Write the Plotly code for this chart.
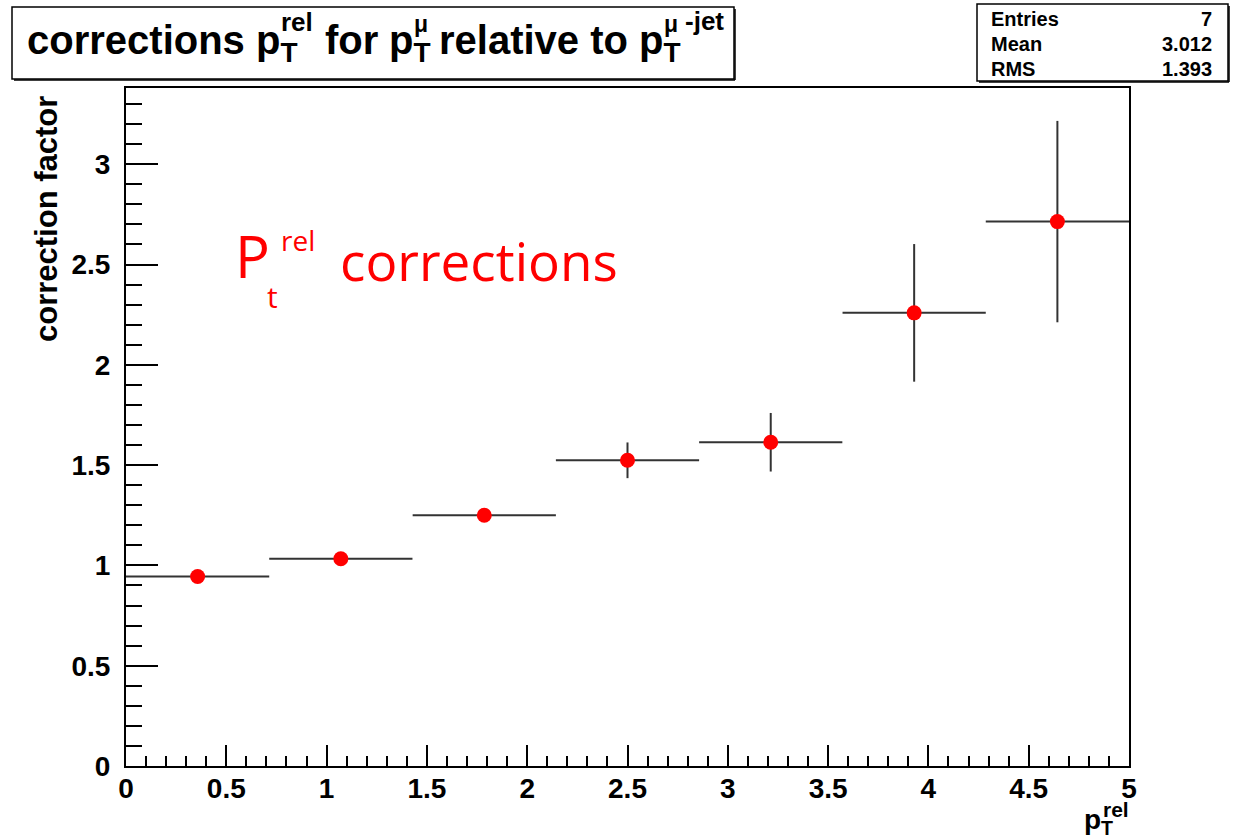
import plotly.graph_objects as go

# ---- data ----
bin_centers = [0.357, 1.071, 1.786, 2.5, 3.214, 3.929, 4.643]
bin_half_widths = [0.357, 0.357, 0.357, 0.357, 0.357, 0.357, 0.357]
correction = [0.945, 1.033, 1.25, 1.524, 1.614, 2.259, 2.714]
correction_err = [0.012, 0.015, 0.02, 0.089, 0.146, 0.343, 0.502]
stats_labels = ["Entries", "Mean", "RMS"]
stats_values = ["7", "3.012", "1.393"]

W, H = 1236, 838
L, R, T, B = 126, 1129, 88, 766.5

def px(x):
    return (x - L) / (R - L)

def py(y):
    return (B - y) / (B - T)

FONT = "Liberation Sans"
fig = go.Figure()
fig.add_trace(go.Scatter(
    x=bin_centers, y=correction, mode="markers",
    marker=dict(color="#ff0000", size=15, line=dict(width=0)),
    error_x=dict(type="data", array=bin_half_widths, width=0, color="#333", thickness=2),
    error_y=dict(type="data", array=correction_err, width=0, color="#333", thickness=2),
    showlegend=False, cliponaxis=False,
))

fig.update_layout(
    width=W, height=H,
    margin=dict(l=L, r=W - R, t=T, b=H - B),
    paper_bgcolor="white", plot_bgcolor="white",
    font=dict(family=FONT, color="black"),
)
fig.update_xaxes(
    range=[0, 5], showgrid=False, zeroline=False,
    showline=True, linecolor="black", linewidth=2, mirror=True,
    ticks="inside", ticklen=21, tickwidth=1.5, tickcolor="black",
    tick0=0, dtick=0.5, ticklabelstandoff=-4,
    tickfont=dict(family=FONT, size=28, color="black", weight="bold"),
    minor=dict(ticks="inside", ticklen=10, dtick=0.1, tickwidth=1.5, tickcolor="black", showgrid=False),
)
fig.update_yaxes(
    range=[0, 3.38], showgrid=False, zeroline=False,
    showline=True, linecolor="black", linewidth=2, mirror=True,
    ticks="inside", ticklen=32, tickwidth=1.5, tickcolor="black",
    tick0=0, dtick=0.5, ticklabelstandoff=8,
    tickfont=dict(family=FONT, size=28, color="black", weight="bold"),
    minor=dict(ticks="inside", ticklen=16, dtick=0.1, tickwidth=1.5, tickcolor="black", showgrid=False),
)

shapes = []
def box(x0, y0, x1, y1):
    shapes.append(dict(type="rect", xref="paper", yref="paper",
                       x0=px(x0), x1=px(x1), y0=py(y1), y1=py(y0),
                       line=dict(color="black", width=1.5), fillcolor="white", layer="above"))
    shapes.append(dict(type="line", xref="paper", yref="paper",
                       x0=px(x1 + 1), x1=px(x1 + 1), y0=py(y1 + 1), y1=py(y0 + 2),
                       line=dict(color="black", width=1.5)))
    shapes.append(dict(type="line", xref="paper", yref="paper",
                       x0=px(x0 + 2), x1=px(x1 + 1), y0=py(y1 + 1), y1=py(y1 + 1),
                       line=dict(color="black", width=1.5)))

box(12, 7, 734, 79)
box(977, 4, 1228, 81)
fig.update_layout(shapes=shapes)

ann = []
def text(x, y, s, size, xanchor="left", yanchor="middle", color="black", weight="bold", family=FONT, textangle=0):
    ann.append(dict(xref="paper", yref="paper", x=px(x), y=py(y), text=s, showarrow=False,
                    xanchor=xanchor, yanchor=yanchor, textangle=textangle,
                    font=dict(family=family, size=size, color=color, weight=weight)))

# Title (segments placed like the reference)
TS = 40
TY = 16
SS = 26
text(25, TY, "corrections", TS, yanchor="top")
text(254, TY, "p<sub>T</sub>", TS, yanchor="top")
text(279, 22, "rel", SS)
text(323, TY, "for", TS, yanchor="top")
text(387, TY, "p<sub>T</sub>", TS, yanchor="top")
text(412, 24, "μ", SS - 3)
text(437, TY, "relative to", TS, yanchor="top")
text(637, TY, "p<sub>T</sub>", TS, yanchor="top")
text(662, 24, "μ", SS - 3)
text(683, 21, "-jet", SS)

# Stats box
for i, (lab, val) in enumerate(zip(stats_labels, stats_values)):
    yy = 19 + i * 25
    text(989, yy, lab, 20)
    text(1214, yy, val, 20, xanchor="right")

# Y axis title
text(47, 94, "correction factor", 31, xanchor="center", yanchor="top", textangle=-90)

# X axis title
text(1082, 822, "p<sub>T</sub>", 28)
text(1101, 810, "rel", 21)

# Red annotation
RF = "Open Sans"
text(233, 256, "P", 58, color="#ff0000", weight=500, family=RF)
text(279, 240, "rel", 28, color="#ff0000", weight=500, family=RF)
text(265, 297, "t", 30, color="#ff0000", weight=500, family=RF)
text(338, 261, "corrections", 53, color="#ff0000", weight=500, family=RF)

fig.update_layout(annotations=ann)
fig.write_html("out.html")
